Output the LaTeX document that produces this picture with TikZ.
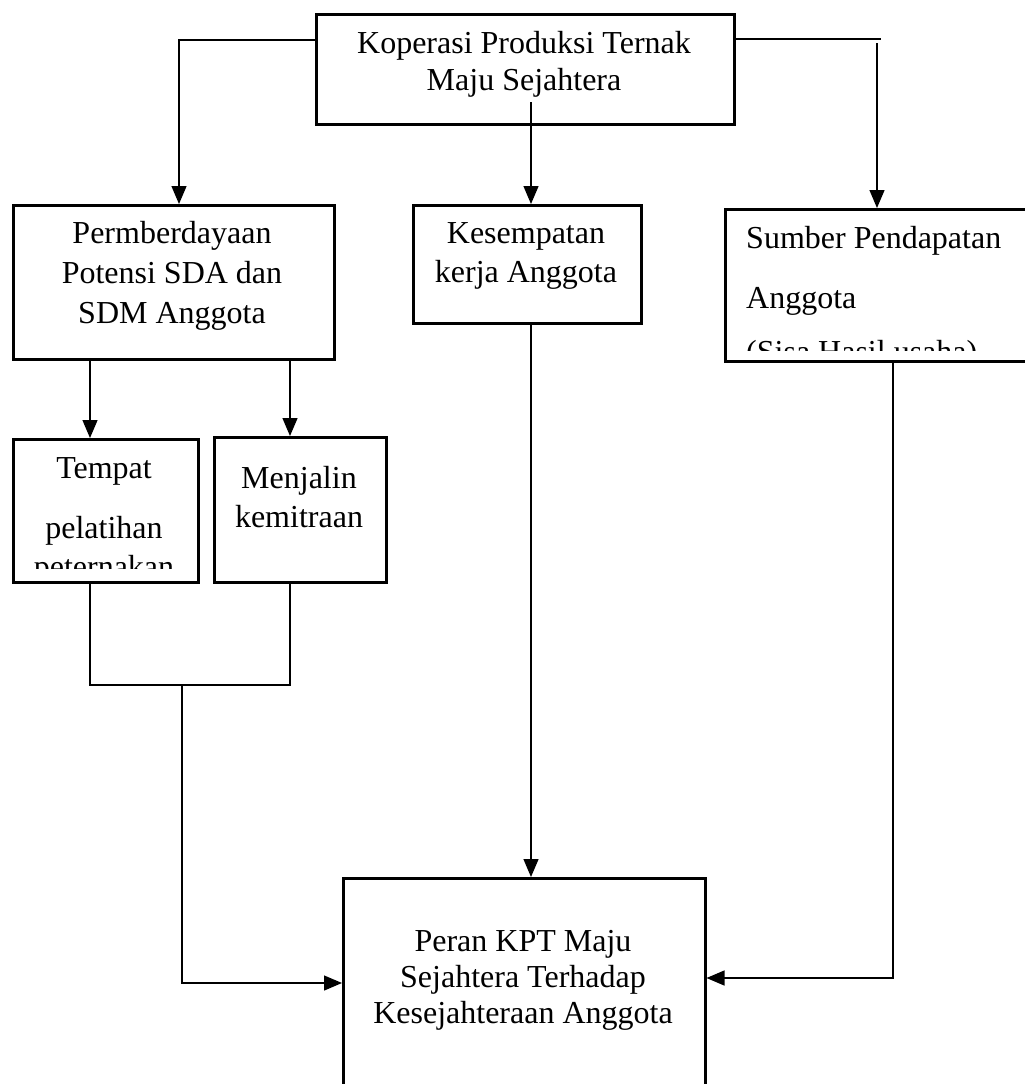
\documentclass[tikz,border=0pt]{standalone}
\usepackage{fontspec}
\setmainfont{Liberation Serif}
\usetikzlibrary{positioning}
\usetikzlibrary{arrows.meta}

\begin{document}
\begin{tikzpicture}[x=1pt, y=-1pt,
    kotak/.style={draw, line width=2.5pt, inner sep=0pt, anchor=north west},
    tulisan/.style={align=center, inner sep=0pt, anchor=base, font=\fontsize{32}{39}\selectfont},
    garis/.style={line width=1.3pt},
    panah/.style={garis, -{Triangle[length=18pt,width=15pt]}}]
    \useasboundingbox (0,0) rectangle (1025,1084);
    \clip (0,0) rectangle (1025,1084);

    % Kotak
    \node[kotak, minimum width=418pt, minimum height=110pt] (koperasi) at (315,13) {};
    \node[kotak, minimum width=321pt, minimum height=154pt] (pemberdayaan) at (12,204) {};
    \node[kotak, minimum width=228pt, minimum height=118pt] (kesempatan) at (412,204) {};
    \node[kotak, minimum width=330pt, minimum height=152pt] (sumber) at (724,208) {};
    \node[kotak, minimum width=185pt, minimum height=143pt] (tempat) at (12,438) {};
    \node[kotak, minimum width=172pt, minimum height=145pt] (menjalin) at (213,436) {};
    \node[kotak, minimum width=362pt, minimum height=240pt] (peran) at (342,877) {};

    % Tulisan (titik = garis dasar baris terakhir)
    \node[tulisan, font=\fontsize{32}{37}\selectfont] (tkoperasi) at (524,90) {Koperasi Produksi Ternak\\Maju Sejahtera};
    \node[tulisan, font=\fontsize{32}{40}\selectfont] (tpemberdayaan) at (172,323) {Permberdayaan\\Potensi SDA dan\\SDM Anggota};
    \node[tulisan] (tkesempatan) at (526,282) {Kesempatan\\kerja Anggota};
    \node[tulisan] (tmenjalin) at (299,527) {Menjalin\\kemitraan};
    \node[tulisan, font=\fontsize{32}{36}\selectfont] (tperan) at (523,1023) {Peran KPT Maju\\Sejahtera Terhadap\\Kesejahteraan Anggota};
    \begin{scope}
      \clip (12,438) rectangle (197,568);
      \node[tulisan] (ttempat) at (104,577) {Tempat\\[21pt]pelatihan\\peternakan};
    \end{scope}
    \begin{scope}
      \clip (724,208) rectangle (1025,350);
      \node[tulisan, align=left, anchor=base west] (tsumber) at (746,362) {Sumber Pendapatan\\[21pt]Anggota\\[15pt](Sisa Hasil usaha)};
    \end{scope}

    % Titik belok
    \coordinate (kiri) at (179,40);
    \coordinate (kanan) at (881,39);
    \coordinate (kanan2) at (877,43);
    \coordinate (tengah) at (531,102);
    \coordinate (x1) at (90,0);
    \coordinate (x2) at (290,0);
    \coordinate (gabung) at (182,685);
    \coordinate (belok) at (182,983);
    \coordinate (belok2) at (893,978);

    % Garis
    \draw[panah] (koperasi.west |- kiri) -- (kiri) -- (kiri |- pemberdayaan.north);
    \draw[garis] (koperasi.east |- kanan) -- (kanan);
    \draw[panah] (kanan2) -- (kanan2 |- sumber.north);
    \draw[panah] (tengah) -- (tengah |- kesempatan.north);
    \draw[panah] (pemberdayaan.south -| x1) -- (tempat.north -| x1);
    \draw[panah] (pemberdayaan.south -| x2) -- (menjalin.north -| x2);
    \draw[garis] (tempat.south -| x1) -- (x1 |- gabung) -- (x2 |- gabung) -- (menjalin.south -| x2);
    \draw[panah] (gabung) -- (belok) -- (belok -| peran.west);
    \draw[panah] (kesempatan.south -| tengah) -- (peran.north -| tengah);
    \draw[panah] (sumber.south -| belok2) -- (belok2) -- (belok2 -| peran.east);
\end{tikzpicture}
\end{document}
